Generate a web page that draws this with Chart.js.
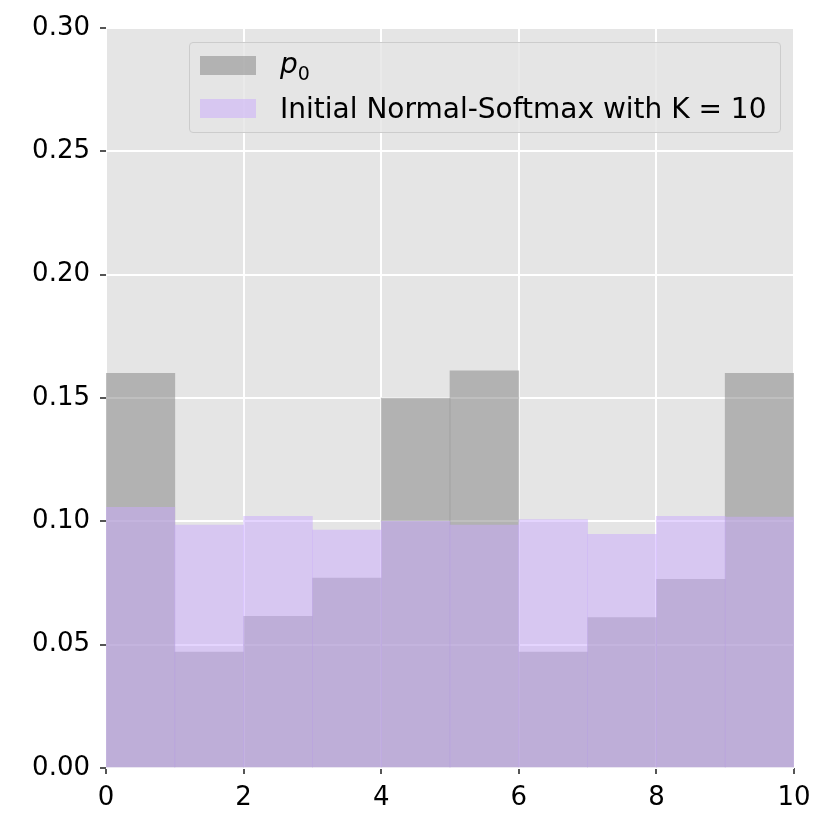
<!DOCTYPE html>
<html>
<head>
<meta charset="utf-8">
<script src="https://cdn.jsdelivr.net/npm/chart.js@4"></script>
<style>
  html, body { margin: 0; padding: 0; background: #fff; }
  #wrap { position: relative; width: 830px; height: 830px; }
  #legend {
    position: absolute; left: 189px; top: 42px; width: 590px; height: 89px;
    background: rgba(229,229,229,0.8); border: 1px solid #cccccc; border-radius: 4px;
    font-family: "DejaVu Sans", sans-serif; font-size: 28px; color: #000;
  }
  .item { position: absolute; left: 10px; height: 30px; display: flex; align-items: center; }
  .sw { width: 56px; height: 19px; margin-right: 24px; }
</style>
</head>
<body>
<div id="wrap">
  <canvas id="chart" width="830" height="830"></canvas>
  <div id="legend">
    <div class="item" style="top: 7px;"><span class="sw" style="background: rgba(128,128,128,0.5);"></span><span><i>p</i><sub style="font-size:19px;">0</sub></span></div>
    <div class="item" style="top: 50px;"><span class="sw" style="background: rgba(201,169,253,0.5);"></span><span>Initial Normal-Softmax with K = 10</span></div>
  </div>
</div>
<script>
const binCenters = [0.5, 1.5, 2.5, 3.5, 4.5, 5.5, 6.5, 7.5, 8.5, 9.5];
const p0 = [0.160, 0.047, 0.0615, 0.077, 0.150, 0.161, 0.047, 0.061, 0.0765, 0.160];
const normalSoftmax = [0.1057, 0.0985, 0.102, 0.0965, 0.100, 0.0985, 0.1007, 0.0947, 0.102, 0.1017];

Chart.defaults.font.family = "DejaVu Sans";
Chart.defaults.font.size = 26;
Chart.defaults.color = "#000";

const bgPlugin = {
  id: "plotBg",
  beforeDraw(chart) {
    const { ctx, chartArea: a } = chart;
    ctx.save();
    ctx.fillStyle = "#e5e5e5";
    ctx.fillRect(a.left, a.top, a.right - a.left, a.bottom - a.top);
    ctx.restore();
  }
};

new Chart(document.getElementById("chart"), {
  type: "bar",
  data: {
    datasets: [
      {
        label: "p0",
        data: binCenters.map((x, i) => ({ x: x, y: p0[i] })),
        backgroundColor: "rgba(128,128,128,0.5)",
        order: 1
      },
      {
        label: "Initial Normal-Softmax with K = 10",
        data: binCenters.map((x, i) => ({ x: x, y: normalSoftmax[i] })),
        backgroundColor: "rgba(201,169,253,0.5)",
        order: 0
      }
    ]
  },
  options: {
    responsive: false,
    animation: false,
    layout: { padding: { top: 28, right: 36, left: 0, bottom: 0 } },
    datasets: {
      bar: { grouped: false, barPercentage: 1, categoryPercentage: 1, borderWidth: 0 }
    },
    plugins: { legend: { display: false }, tooltip: { enabled: false } },
    scales: {
      x: {
        type: "linear",
        min: 0, max: 10,
        offset: false,
        afterFit(s) { s.height = 62; },
        border: { display: false },
        grid: { offset: false, color: "#ffffff", lineWidth: 2, tickColor: "#555555", tickLength: 6, tickWidth: 2 },
        ticks: { stepSize: 2, padding: 9, color: "#000" }
      },
      y: {
        min: 0, max: 0.3,
        afterFit(s) { s.width = 106; },
        border: { display: false },
        grid: { color: "#ffffff", lineWidth: 2, tickColor: "#555555", tickLength: 6, tickWidth: 2 },
        ticks: { stepSize: 0.05, padding: 10, color: "#000", callback: v => v.toFixed(2) }
      }
    }
  },
  plugins: [bgPlugin]
});
</script>
</body>
</html>
